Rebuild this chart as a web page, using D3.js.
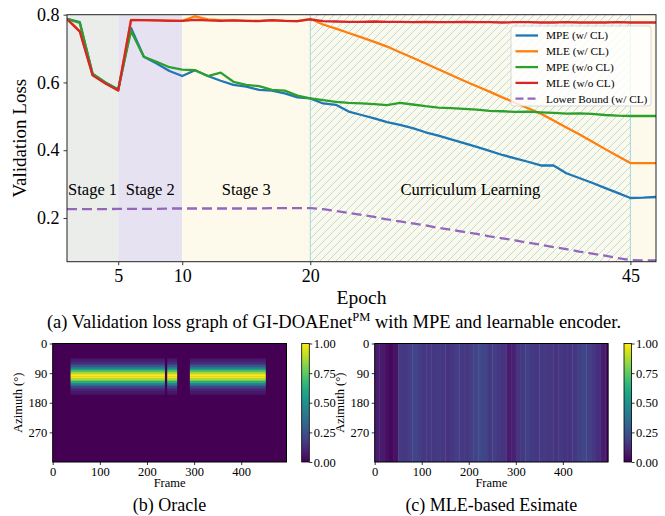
<!DOCTYPE html>
<html><head><meta charset="utf-8">
<script src="https://cdn.jsdelivr.net/npm/d3@7"></script>
<style>
body{margin:0;background:#fff}
svg{display:block}
text{font-family:"Liberation Serif","Times New Roman",serif;fill:#000}
</style>
</head><body>
<svg id="c" width="665" height="516"></svg>
<script>
// ---------------- data: validation loss ----------------
const epochs = [1,2,3,4,5,6,7,8,9,10,11,12,13,14,15,16,17,18,19,20,21,22,23,24,25,26,27,28,29,30,31,32,33,34,35,36,37,38,39,40,41,42,43,44,45,46,47];
const mpeCL = [0.788,0.778,0.624,0.600,0.578,0.761,0.676,0.656,0.634,0.619,0.636,0.619,0.605,0.593,0.588,0.578,0.576,0.568,0.556,0.553,
  0.538,0.534,0.514,0.504,0.494,0.483,0.475,0.465,0.453,0.443,0.432,0.421,0.410,0.398,0.386,0.376,0.366,0.355,0.355,0.332,0.318,0.304,0.289,0.274,0.259,0.260,0.262];
const mleCL = [0.788,0.752,0.623,0.598,0.577,0.785,0.784,0.783,0.783,0.782,0.795,0.786,0.784,0.783,0.782,0.782,0.783,0.782,0.781,0.788,
  0.771,0.759,0.746,0.733,0.720,0.706,0.689,0.673,0.656,0.639,0.622,0.605,0.589,0.573,0.556,0.540,0.524,0.508,0.488,0.467,0.447,0.426,0.404,0.383,0.362,0.362,0.362];
const mpeNoCL = [0.788,0.776,0.626,0.600,0.580,0.752,0.676,0.661,0.645,0.638,0.636,0.619,0.629,0.602,0.593,0.589,0.578,0.576,0.561,0.553,
  0.548,0.543,0.540,0.538,0.536,0.533,0.540,0.535,0.530,0.526,0.524,0.522,0.520,0.516,0.515,0.513,0.514,0.512,0.510,0.508,0.509,0.507,0.504,0.502,0.501,0.501,0.501];
const mleNoCL = [0.787,0.750,0.621,0.597,0.576,0.784,0.784,0.783,0.782,0.782,0.785,0.783,0.782,0.783,0.782,0.781,0.784,0.782,0.781,0.786,
  0.781,0.780,0.779,0.779,0.780,0.779,0.779,0.778,0.779,0.778,0.778,0.779,0.778,0.778,0.777,0.778,0.778,0.777,0.777,0.778,0.777,0.777,0.777,0.778,0.777,0.777,0.777];
const lowerBound = [0.226,0.226,0.226,0.226,0.227,0.227,0.227,0.227,0.228,0.228,0.228,0.228,0.228,0.228,0.228,0.228,0.229,0.229,0.229,0.229,
  0.226,0.221,0.215,0.209,0.203,0.196,0.190,0.184,0.178,0.171,0.165,0.159,0.153,0.146,0.140,0.134,0.127,0.121,0.114,0.108,0.101,0.095,0.089,0.082,0.076,0.075,0.075];

const seriesNames = ["MPE (w/ CL)","MLE (w/ CL)","MPE (w/o CL)","MLE (w/o CL)","Lower Bound (w/ CL)"];
const seriesColors = ["#1f77b4","#ff7f0e","#2ca02c","#d62728","#9467bd"];
const seriesValues = [mpeCL, mleCL, mpeNoCL, mleNoCL, lowerBound];

const stageNames = ["Stage 1","Stage 2","Stage 3","Curriculum Learning"];
const stageLabelX = [3, 7.5, 15, 32.5];
const stageStart = [1, 5, 10, 20];
const stageEnd = [5, 10, 47, 45];
const stageFill = ["#ebedeb","#e7e2f1","#fefaeb","#fefaeb"];

const xTicks = [5,10,20,45];
const yTicks = [0.2,0.4,0.6,0.8];

// ---------------- data: heatmaps ----------------
const nFrames = 496;
const frameTicks = [0,100,200,300,400];
const azTicks = [0,90,180,270];
const cbTicks = [0,0.25,0.5,0.75,1];
const oracleSegments = [[38,238],[243,264],[291,452]];
const oracleAzBins = [45,50,55,60,65,70,75,80,85,90,95,100,105,110,115,120,125,130,135,140,145,150];
const oracleProfile = [0.06,0.08,0.11,0.17,0.26,0.38,0.53,0.69,0.83,0.94,1.00,0.98,0.90,0.78,0.62,0.47,0.33,0.22,0.14,0.09,0.07,0.05];
const mleColumnWidth = 10;
const mleColumns = [0.08,0.07,0.04,0.02,0.05,0.17,0.16,0.18,0.20,0.18,0.16,0.16,0.16,0.17,0.16,0.15,0.16,0.18,0.17,0.16,
  0.18,0.20,0.22,0.20,0.17,0.18,0.16,0.15,0.08,0.09,0.15,0.17,0.19,0.17,0.16,0.17,0.16,0.16,0.15,0.16,
  0.15,0.15,0.16,0.19,0.21,0.19,0.16,0.13,0.08,0.05];

// ---------------- main chart ----------------
const svg = d3.select("#c");
const defs = svg.append("defs");

const P = {l:67, r:656, t:14.7, b:261.7};
const x = d3.scaleLinear().domain([1,47]).range([P.l,P.r]);
const y = d3.scaleLinear().domain([0.071,0.8]).range([P.b,P.t]);

defs.append("clipPath").attr("id","clipMain").append("rect")
  .attr("x",P.l).attr("y",P.t).attr("width",P.r-P.l).attr("height",P.b-P.t);
defs.append("clipPath").attr("id","clipHatch").append("rect")
  .attr("x",x(20)).attr("y",P.t).attr("width",x(45)-x(20)).attr("height",P.b-P.t);

const g = svg.append("g");
const bg = g.append("g").attr("clip-path","url(#clipMain)");
stageNames.forEach((n,i)=>{
  bg.append("rect").attr("x",x(stageStart[i])).attr("y",P.t)
    .attr("width",x(stageEnd[i])-x(stageStart[i])).attr("height",P.b-P.t)
    .attr("fill",stageFill[i]);
});
// hatch "///" over the curriculum learning span
const hatch = bg.append("g").attr("clip-path","url(#clipHatch)");
const hH = P.b - P.t;
for (let x0 = x(20) - hH; x0 < x(45) + 8; x0 += 8) {
  hatch.append("line").attr("x1",x0).attr("y1",P.b).attr("x2",x0+hH).attr("y2",P.t)
    .attr("stroke","#a3d9e4").attr("stroke-width",0.9);
}
[20,45].forEach(e=>{
  bg.append("line").attr("x1",x(e)).attr("x2",x(e)).attr("y1",P.t).attr("y2",P.b)
    .attr("stroke","#9fd7e1").attr("stroke-width",1);
});

// stage labels
stageNames.forEach((n,i)=>{
  g.append("text").attr("x",x(stageLabelX[i])).attr("y",y(0.268))
    .attr("text-anchor","middle").attr("font-size",16.5).text(n);
});

// lines
const lineGen = vals => d3.line().x((d,i)=>x(epochs[i])).y(d=>y(d))(vals);
const lg = g.append("g").attr("clip-path","url(#clipMain)");
seriesValues.forEach((vals,i)=>{
  lg.append("path").attr("d",lineGen(vals)).attr("fill","none")
    .attr("stroke",seriesColors[i]).attr("stroke-width",2.3)
    .attr("stroke-linejoin","round")
    .attr("stroke-dasharray", i===4 ? "10,5" : null);
});

// axes
const xAxis = d3.axisBottom(x).tickValues(xTicks).tickSize(3.5).tickPadding(4).tickFormat(d3.format("d"));
const yAxis = d3.axisLeft(y).tickValues(yTicks).tickSize(3.5).tickPadding(4).tickFormat(d3.format(".1f"));
const gx = g.append("g").attr("transform",`translate(0,${P.b})`).call(xAxis);
const gy = g.append("g").attr("transform",`translate(${P.l},0)`).call(yAxis);
[gx,gy].forEach(a=>{
  a.select(".domain").remove();
  a.selectAll("line").attr("stroke","#222").attr("stroke-width",0.9);
  a.selectAll("text").attr("font-size",18).attr("font-family","Liberation Serif").attr("fill","#000");
});
g.append("rect").attr("x",P.l).attr("y",P.t).attr("width",P.r-P.l).attr("height",P.b-P.t)
  .attr("fill","none").attr("stroke","#222").attr("stroke-width",1);

g.append("text").attr("transform",`translate(26,${(P.t+P.b)/2}) rotate(-90)`)
  .attr("text-anchor","middle").attr("font-size",19).text("Validation Loss");
g.append("text").attr("x",(P.l+P.r)/2).attr("y",304).attr("text-anchor","middle")
  .attr("font-size",19.5).text("Epoch");

// legend
const L = {x:511, y:26, w:140, h:80};
const leg = g.append("g");
leg.append("rect").attr("x",L.x).attr("y",L.y).attr("width",L.w).attr("height",L.h)
  .attr("rx",3).attr("fill","#fff").attr("fill-opacity",0.8).attr("stroke","#d0d0d0").attr("stroke-width",0.8);
seriesNames.forEach((n,i)=>{
  const yy = L.y + 9.5 + i*15.8;
  leg.append("line").attr("x1",L.x+4.5).attr("x2",L.x+27).attr("y1",yy).attr("y2",yy)
    .attr("stroke",seriesColors[i]).attr("stroke-width",2.3)
    .attr("stroke-dasharray", i===4 ? "8,4" : null);
  leg.append("text").attr("x",L.x+35).attr("y",yy+3.8).attr("font-size",11.3).text(n);
});

// caption (a)
const capA = svg.append("text").attr("x",334).attr("y",328).attr("text-anchor","middle").attr("font-size",18.5);
capA.append("tspan").text("(a) Validation loss graph of GI-DOAEnet");
capA.append("tspan").attr("dy",-7.5).attr("font-size",12.5).text("PM");
capA.append("tspan").attr("dy",7.5).text(" with MPE and learnable encoder.");

// ---------------- heatmaps ----------------
const viridis = d3.interpolateViridis;
const gradId = "viridisGrad";
const grad = defs.append("linearGradient").attr("id",gradId).attr("x1",0).attr("y1",1).attr("x2",0).attr("y2",0);
d3.range(0,1.0001,0.05).forEach(t=>grad.append("stop").attr("offset",t).attr("stop-color",viridis(t)));

function heatFrame(H, draw){
  const hx = d3.scaleLinear().domain([0,nFrames]).range([H.l,H.r]);
  const hy = d3.scaleLinear().domain([0,360]).range([H.t,H.b]);
  const hg = svg.append("g");
  draw(hg,hx,hy);
  const ax = d3.axisBottom(hx).tickValues(frameTicks).tickSize(3).tickPadding(2.5);
  const ay = d3.axisLeft(hy).tickValues(azTicks).tickSize(3).tickPadding(2.5);
  const gax = hg.append("g").attr("transform",`translate(0,${H.b})`).call(ax);
  const gay = hg.append("g").attr("transform",`translate(${H.l},0)`).call(ay);
  [gax,gay].forEach(a=>{
    a.select(".domain").remove();
    a.selectAll("line").attr("stroke","#000").attr("stroke-width",0.8);
    a.selectAll("text").attr("font-size",12.5).attr("font-family","Liberation Serif").attr("fill","#000");
  });
  hg.append("rect").attr("x",H.l).attr("y",H.t).attr("width",H.r-H.l).attr("height",H.b-H.t)
    .attr("fill","none").attr("stroke","#000").attr("stroke-width",1);
  hg.append("text").attr("x",(H.l+H.r)/2).attr("y",H.b+25).attr("text-anchor","middle")
    .attr("font-size",12.5).text("Frame");
  hg.append("text").attr("transform",`translate(${H.yl},${(H.t+H.b)/2}) rotate(-90)`)
    .attr("text-anchor","middle").attr("font-size",12.5).text("Azimuth (°)");
  // colorbar
  const cs = d3.scaleLinear().domain([0,1]).range([H.b,H.t]);
  hg.append("rect").attr("x",H.cb).attr("y",H.t).attr("width",7.6).attr("height",H.b-H.t)
    .attr("fill",`url(#${gradId})`).attr("stroke","#000").attr("stroke-width",0.8);
  const gc = hg.append("g").attr("transform",`translate(${H.cb+7.6},0)`)
    .call(d3.axisRight(cs).tickValues(cbTicks).tickSize(3).tickPadding(1.5).tickFormat(d3.format(".2f")));
  gc.select(".domain").remove();
  gc.selectAll("line").attr("stroke","#000").attr("stroke-width",0.8);
  gc.selectAll("text").attr("font-size",12.5).attr("font-family","Liberation Serif").attr("fill","#000");
  // caption
  hg.append("text").attr("x",(H.l+H.r)/2).attr("y",511).attr("text-anchor","middle")
    .attr("font-size",18).text(H.caption);
}

heatFrame({l:52.7,r:286.5,t:343.5,b:462,cb:301.7,yl:22,caption:"(b) Oracle"}, (hg,hx,hy)=>{
  hg.append("rect").attr("x",hx(0)).attr("y",hy(0)).attr("width",hx(nFrames)-hx(0))
    .attr("height",hy(360)-hy(0)).attr("fill",viridis(0));
  oracleSegments.forEach(seg=>{
    oracleAzBins.forEach((a,j)=>{
      hg.append("rect").attr("x",hx(seg[0])).attr("width",hx(seg[1])-hx(seg[0]))
        .attr("y",hy(a)).attr("height",hy(a+5)-hy(a)+0.4)
        .attr("fill",viridis(oracleProfile[j]));
    });
  });
});

heatFrame({l:374.7,r:608,t:343.5,b:462,cb:624,yl:344,caption:"(c) MLE-based Esimate"}, (hg,hx,hy)=>{
  mleColumns.forEach((v,i)=>{
    const f0 = i*mleColumnWidth, f1 = Math.min(nFrames,(i+1)*mleColumnWidth);
    hg.append("rect").attr("x",hx(f0)).attr("width",hx(f1)-hx(f0)+0.4)
      .attr("y",hy(0)).attr("height",hy(360)-hy(0))
      .attr("fill",viridis(v));
  });
});
</script>
</body></html>
